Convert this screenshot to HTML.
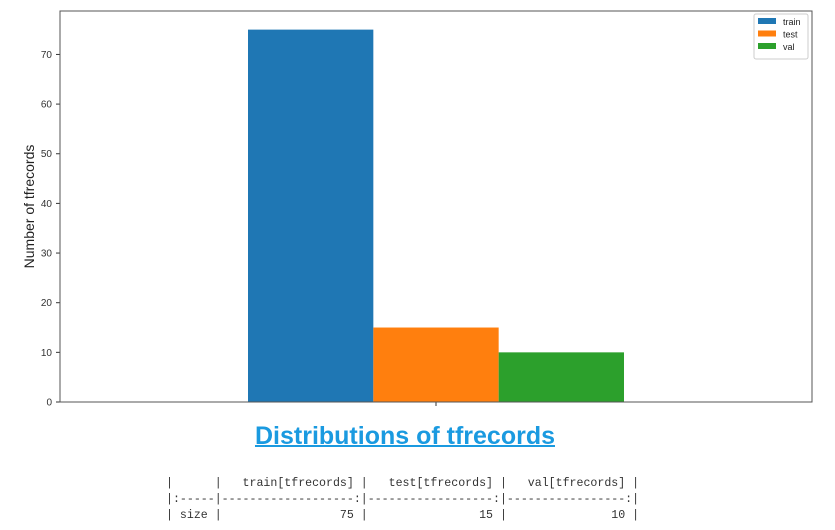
<!DOCTYPE html>
<html><head><meta charset="utf-8"><style>
body{margin:0;background:#fff;width:835px;height:530px;overflow:hidden;font-family:"Liberation Sans",sans-serif}
#title{position:absolute;left:0;width:810px;top:422px;text-align:center;font:bold 25px "Liberation Sans",sans-serif;color:#1a9ae0;text-decoration:underline;text-decoration-thickness:2px}
#tbl{position:absolute;left:166px;top:476px;font:11.6px/16px "Liberation Mono",monospace;color:#333;white-space:pre;margin:0}
</style></head><body>
<svg id="chart" width="835" height="420" style="position:absolute;left:0;top:0"></svg>
<div id="title">Distributions of tfrecords</div>
<pre id="tbl">|      |   train[tfrecords] |   test[tfrecords] |   val[tfrecords] |
|:-----|-------------------:|------------------:|-----------------:|
| size |                 75 |                15 |               10 |</pre>
<script>
const series=["train","test","val"];
const values=[75,15,10];
const colors=["#1f77b4","#ff7f0e","#2ca02c"];
const yTicks=[0,10,20,30,40,50,60,70];
const NS="http://www.w3.org/2000/svg";
const svg=document.getElementById('chart');
const L=60,R=812,T=11,B=402,yMax=78.75;
const y=v=>B-v/yMax*(B-T);
const x=v=>L+(v+0.5)*(R-L);
function mk(t,a){const e=document.createElementNS(NS,t);for(const k in a)e.setAttribute(k,a[k]);svg.appendChild(e);return e;}
const bw=0.5/series.length;
series.forEach((s,i)=>{
 const x0=x(-0.25+i*bw),x1=x(-0.25+(i+1)*bw);
 const r=mk('rect',{x:x0,y:y(values[i]),width:x1-x0,height:B-y(values[i]),fill:colors[i]});
 
 
});
yTicks.forEach(t=>{
 const l=mk('line',{x1:L-4,x2:L,y1:y(t),y2:y(t),stroke:'#333','stroke-width':1});
 
 
 const tx=mk('text',{x:L-8,y:y(t)+3.5,'text-anchor':'end','font-size':10,fill:'#333','font-family':'Liberation Sans, sans-serif'});
 tx.textContent=t;
 
 
});
const xt=mk('line',{x1:x(0),x2:x(0),y1:B,y2:B+4,stroke:'#333'});


const frame=mk('rect',{x:L,y:T,width:R-L,height:B-T,fill:'none',stroke:'#555','stroke-width':1});


const yl=mk('text',{x:0,y:0,transform:'translate(34,'+((T+B)/2)+') rotate(-90)','text-anchor':'middle','font-size':14,fill:'#222','font-family':'Liberation Sans, sans-serif'});
yl.textContent='Number of tfrecords';


const lg=mk('rect',{x:754,y:14,width:54,height:45,fill:'#fff',stroke:'#ccc',rx:2});


series.forEach((s,i)=>{
 const sw=mk('rect',{x:758,y:18+i*12.5,width:18,height:6,fill:colors[i]});
 
 
 const t=mk('text',{x:783,y:25+i*12.5,'font-size':9,fill:'#222','font-family':'Liberation Sans, sans-serif'});
 t.textContent=s;
 
 
});
</script>
</body></html>
